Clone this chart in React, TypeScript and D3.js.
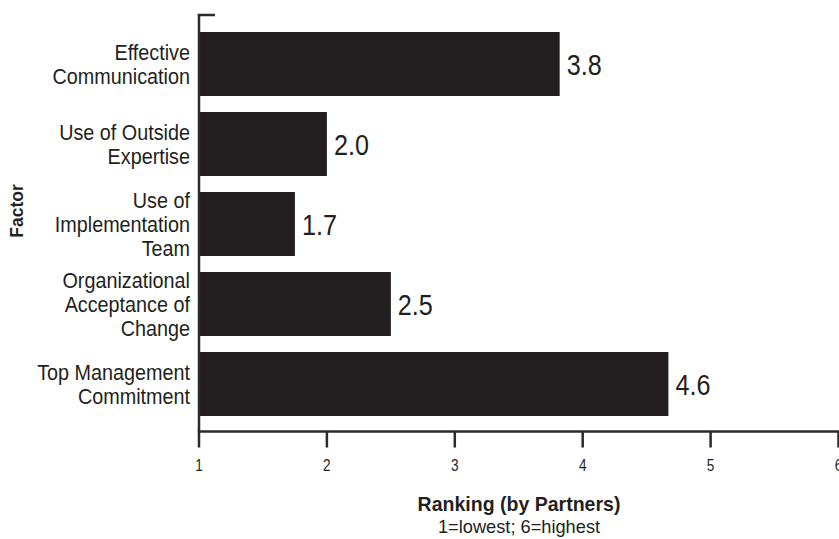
import React from "react";
import * as d3 from "d3";

const categories: string[][] = [
  ["Effective", "Communication"],
  ["Use of Outside", "Expertise"],
  ["Use of", "Implementation", "Team"],
  ["Organizational", "Acceptance of", "Change"],
  ["Top Management", "Commitment"],
];
const values: number[] = [3.82, 2.0, 1.75, 2.5, 4.67];
const valueLabels: string[] = ["3.8", "2.0", "1.7", "2.5", "4.6"];
const ticks: number[] = [1, 2, 3, 4, 5, 6];
const xTitle = "Ranking (by Partners)";
const xSubtitle = "1=lowest; 6=highest";
const yTitle = "Factor";

const W = 839;
const H = 539;
const FONT = "'Liberation Sans', Arial, sans-serif";
const INK = "#231f20";
const AXIS = "#2b2b2b";

export default function App() {
  const x = d3.scaleLinear().domain([1, 6]).range([199, 838.5]);
  const ids = categories.map((_, i) => String(i));
  const y = d3
    .scaleBand<string>()
    .domain(ids)
    .range([24, 424])
    .paddingInner(0.2)
    .paddingOuter(0.1);
  const axisY = 431.5;

  const T = (
    tx: number,
    ty: number,
    sx: number,
    props: any,
    content: string,
    rot = 0
  ) => (
    <g transform={`translate(${tx},${ty}) rotate(${rot}) scale(${sx},1)`}>
      <text x={0} y={0} fontFamily={FONT} fill={INK} {...props}>
        {content}
      </text>
    </g>
  );

  return (
    <svg
      width={W}
      height={H}
      style={{ position: "absolute", left: 0, top: 0, background: "#fff" }}
    >
      {/* bars */}
      {values.map((v, i) => (
        <rect
          key={"b" + i}
          x={x(1)}
          y={y(ids[i])!}
          width={x(v) - x(1)}
          height={y.bandwidth()}
          fill={INK}
        />
      ))}
      {/* value labels */}
      {values.map((v, i) =>
        <React.Fragment key={"v" + i}>
          {T(x(v) + 7, y(ids[i])! + y.bandwidth() / 2 + 11, 0.84, { fontSize: 30 }, valueLabels[i])}
        </React.Fragment>
      )}
      {/* category labels */}
      {categories.map((lines, i) => {
        const c = y(ids[i])! + y.bandwidth() / 2;
        return (
          <React.Fragment key={"c" + i}>
            {lines.map((ln, j) => (
              <React.Fragment key={j}>
                {T(
                  190,
                  c + (j - (lines.length - 1) / 2) * 24 + 7.5,
                  0.9,
                  { fontSize: 22, textAnchor: "end" },
                  ln
                )}
              </React.Fragment>
            ))}
          </React.Fragment>
        );
      })}
      {/* y axis */}
      <line x1={x(1)} x2={x(1)} y1={15} y2={axisY} stroke={AXIS} strokeWidth={2.5} />
      <line x1={x(1) - 1.25} x2={215} y1={15} y2={15} stroke={AXIS} strokeWidth={2.5} />
      {/* x axis */}
      <line x1={x(1) - 1.25} x2={W} y1={axisY} y2={axisY} stroke={AXIS} strokeWidth={2.5} />
      {ticks.map((t) => (
        <React.Fragment key={"t" + t}>
          <line x1={x(t)} x2={x(t)} y1={axisY} y2={447.5} stroke={AXIS} strokeWidth={2.5} />
          {T(x(t), 471, 0.85, { fontSize: 16, textAnchor: "middle" }, String(t))}
        </React.Fragment>
      ))}
      {/* titles */}
      {T(519, 511, 0.93, { fontSize: 21, fontWeight: "bold", textAnchor: "middle" }, xTitle)}
      {T(519, 533, 0.96, { fontSize: 19, textAnchor: "middle" }, xSubtitle)}
      {T(23, 211, 0.92, { fontSize: 19, fontWeight: "bold", textAnchor: "middle" }, yTitle, -90)}
    </svg>
  );
}
